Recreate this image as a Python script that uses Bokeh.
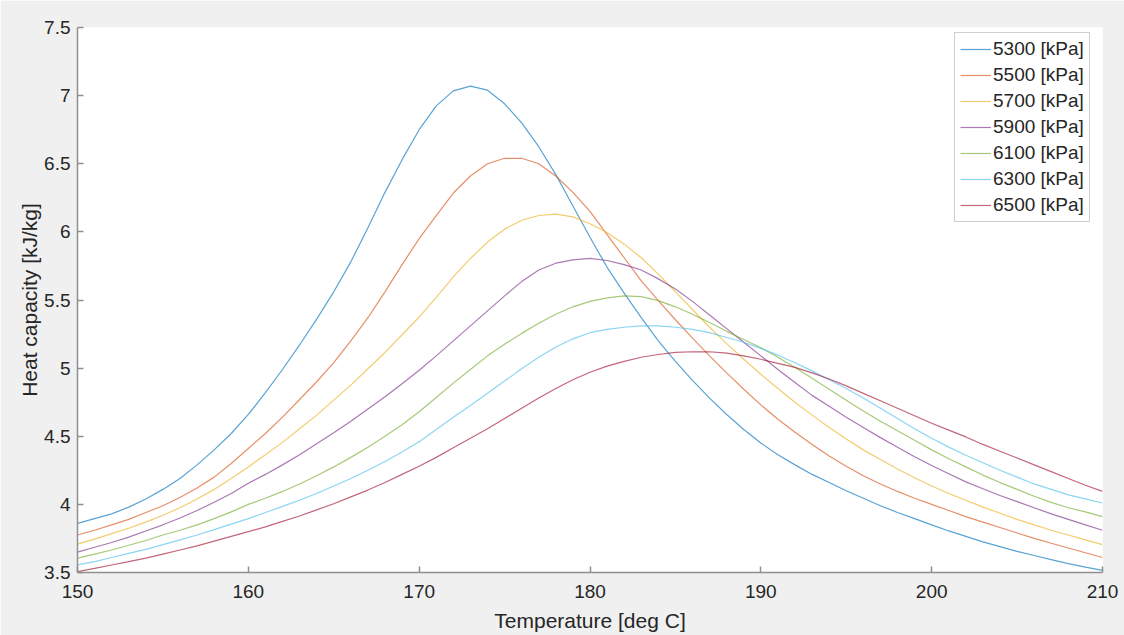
from bokeh.plotting import figure
from bokeh.models import ColumnDataSource, FixedTicker, Range1d, Legend, LegendItem
from bokeh.embed import file_html
from bokeh.resources import INLINE

# ---------------- data ----------------
temperature = list(range(150, 211))  # deg C, 1-degree samples

labels = ["5300 [kPa]", "5500 [kPa]", "5700 [kPa]", "5900 [kPa]",
          "6100 [kPa]", "6300 [kPa]", "6500 [kPa]"]

cp_5300 = [3.86, 3.895, 3.93, 3.98, 4.04, 4.11, 4.19, 4.29, 4.40, 4.52,
           4.66, 4.82, 4.99, 5.17, 5.36, 5.56, 5.78, 6.03, 6.29, 6.53,
           6.75, 6.925, 7.035, 7.07, 7.04, 6.94, 6.80, 6.625, 6.42, 6.19,
           5.96, 5.74, 5.55, 5.37, 5.20, 5.05, 4.91, 4.78, 4.66, 4.55,
           4.45, 4.365, 4.29, 4.22, 4.16, 4.10, 4.045, 3.99, 3.94, 3.895,
           3.85, 3.805, 3.765, 3.725, 3.69, 3.655, 3.625, 3.595, 3.565, 3.54,
           3.515]
cp_5500 = [3.775, 3.81, 3.85, 3.89, 3.94, 3.99, 4.05, 4.12, 4.20, 4.30,
           4.41, 4.52, 4.64, 4.77, 4.90, 5.04, 5.20, 5.37, 5.56, 5.76,
           5.95, 6.12, 6.285, 6.41, 6.50, 6.54, 6.54, 6.50, 6.41, 6.29,
           6.15, 5.98, 5.81, 5.64, 5.495, 5.355, 5.22, 5.09, 4.965, 4.845,
           4.73, 4.625, 4.53, 4.44, 4.355, 4.28, 4.21, 4.15, 4.095, 4.045,
           4.00, 3.955, 3.91, 3.87, 3.83, 3.79, 3.75, 3.715, 3.68, 3.645,
           3.61]
cp_5700 = [3.708, 3.745, 3.785, 3.825, 3.87, 3.92, 3.975, 4.04, 4.11, 4.19,
           4.275, 4.365, 4.455, 4.555, 4.655, 4.765, 4.875, 4.995, 5.115, 5.245,
           5.375, 5.52, 5.67, 5.805, 5.925, 6.02, 6.085, 6.12, 6.13, 6.11,
           6.06, 5.995, 5.91, 5.81, 5.69, 5.56, 5.43, 5.30, 5.18, 5.065,
           4.955, 4.85, 4.75, 4.655, 4.565, 4.48, 4.40, 4.33, 4.26, 4.195,
           4.135, 4.08, 4.03, 3.98, 3.935, 3.89, 3.85, 3.81, 3.775, 3.74,
           3.705]
cp_5900 = [3.649, 3.685, 3.72, 3.76, 3.805, 3.85, 3.90, 3.955, 4.015, 4.08,
           4.155, 4.22, 4.29, 4.365, 4.445, 4.525, 4.61, 4.70, 4.79, 4.885,
           4.985, 5.09, 5.20, 5.31, 5.42, 5.53, 5.635, 5.72, 5.77, 5.795,
           5.805, 5.79, 5.76, 5.72, 5.655, 5.58, 5.49, 5.39, 5.29, 5.19,
           5.09, 4.99, 4.895, 4.80, 4.72, 4.64, 4.565, 4.49, 4.42, 4.35,
           4.285, 4.225, 4.165, 4.115, 4.065, 4.02, 3.975, 3.93, 3.89, 3.85,
           3.81]
cp_6100 = [3.605, 3.635, 3.665, 3.70, 3.735, 3.775, 3.81, 3.85, 3.895, 3.945,
           4.00, 4.045, 4.095, 4.15, 4.21, 4.275, 4.345, 4.42, 4.50, 4.585,
           4.68, 4.785, 4.89, 4.99, 5.09, 5.175, 5.255, 5.33, 5.395, 5.45,
           5.49, 5.515, 5.53, 5.525, 5.495, 5.45, 5.395, 5.335, 5.27, 5.21,
           5.15, 5.08, 5.005, 4.925, 4.845, 4.765, 4.685, 4.61, 4.54, 4.47,
           4.40, 4.335, 4.275, 4.215, 4.16, 4.11, 4.06, 4.015, 3.975, 3.945,
           3.91]
cp_6300 = [3.556, 3.58, 3.61, 3.64, 3.67, 3.705, 3.74, 3.775, 3.815, 3.855,
           3.895, 3.94, 3.985, 4.03, 4.08, 4.135, 4.19, 4.25, 4.315, 4.385,
           4.46, 4.55, 4.64, 4.725, 4.815, 4.905, 4.995, 5.08, 5.155, 5.215,
           5.26, 5.285, 5.30, 5.31, 5.31, 5.30, 5.285, 5.26, 5.225, 5.19,
           5.145, 5.095, 5.04, 4.98, 4.915, 4.85, 4.78, 4.705, 4.63, 4.555,
           4.485, 4.42, 4.36, 4.305, 4.25, 4.20, 4.15, 4.11, 4.07, 4.04,
           4.01]
cp_6500 = [3.507, 3.53, 3.555, 3.58, 3.605, 3.635, 3.665, 3.695, 3.73, 3.765,
           3.80, 3.835, 3.875, 3.915, 3.96, 4.005, 4.055, 4.105, 4.16, 4.22,
           4.28, 4.345, 4.415, 4.485, 4.555, 4.63, 4.705, 4.78, 4.85, 4.915,
           4.97, 5.015, 5.05, 5.08, 5.10, 5.115, 5.12, 5.12, 5.11, 5.09,
           5.065, 5.035, 5.005, 4.965, 4.92, 4.87, 4.815, 4.76, 4.705, 4.65,
           4.595, 4.545, 4.495, 4.44, 4.39, 4.34, 4.29, 4.24, 4.19, 4.14,
           4.095]

x_ticks = [150, 160, 170, 180, 190, 200, 210]
y_ticks = [3.5, 4, 4.5, 5, 5.5, 6, 6.5, 7, 7.5]
y_tick_labels = ["3.5", "4", "4.5", "5", "5.5", "6", "6.5", "7", "7.5"]

colors = ["#0072BD", "#D95319", "#EDB120", "#7E2F8E", "#77AC30", "#4DBEEE", "#A2142F"]

series = [cp_5300, cp_5500, cp_5700, cp_5900, cp_6100, cp_6300, cp_6500]
cols = ["p5300", "p5500", "p5700", "p5900", "p6100", "p6300", "p6500"]
data = {"T": temperature}
for c, s in zip(cols, series):
    data[c] = s
source = ColumnDataSource(data)

FONT = "Liberation Sans"
TXT = "#262626"
AXC = "#8f8f8f"

p = figure(width=1124, height=635, output_backend="svg", toolbar_location=None,
           x_range=Range1d(150, 210), y_range=Range1d(3.5, 7.5),
           min_border_left=77, min_border_right=22, min_border_top=27, min_border_bottom=63,
           background_fill_color="white", border_fill_color="#f0f0f0")
p.outline_line_color = None
p.grid.visible = False

items = []
for c, col, lab in zip(cols, colors, labels):
    r = p.line(x="T", y=c, source=source, line_color=col, line_width=1.2, line_alpha=0.65)
    items.append(LegendItem(label=lab, renderers=[r]))

for ax in (p.xaxis[0], p.yaxis[0]):
    ax.axis_line_color = AXC
    ax.axis_line_width = 1.5
    ax.major_tick_line_color = AXC
    ax.major_tick_line_width = 1.5
    ax.major_tick_in = 6
    ax.major_tick_out = 0
    ax.minor_tick_line_color = None
    ax.major_label_text_font = FONT
    ax.major_label_text_font_size = "19px"
    ax.major_label_text_color = TXT
    ax.axis_label_text_font = FONT
    ax.axis_label_text_font_size = "21px"
    ax.axis_label_text_font_style = "normal"
    ax.axis_label_text_color = TXT

p.xaxis.ticker = FixedTicker(ticks=x_ticks)
p.yaxis.ticker = FixedTicker(ticks=y_ticks)
p.yaxis.major_label_overrides = {t: l for t, l in zip(y_ticks, y_tick_labels)}
p.xaxis.axis_label = "Temperature [deg C]"
p.yaxis.axis_label = "Heat capacity [kJ/kg]"
p.xaxis.major_label_standoff = 12
p.xaxis.axis_label_standoff = 8
p.yaxis.major_label_standoff = 7
p.yaxis.axis_label_standoff = 0

legend = Legend(items=items, location=(877, 350))
legend.margin = 0
legend.padding = 5
legend.spacing = 4
legend.label_height = 20
legend.glyph_height = 20
legend.glyph_width = 31
legend.label_standoff = 2
legend.label_text_font = FONT
legend.label_text_font_size = "19px"
legend.label_text_color = TXT
legend.border_line_color = "#a0a0a0"
legend.border_line_width = 1
legend.background_fill_color = "white"
legend.background_fill_alpha = 1.0
p.add_layout(legend)

open("out.html", "w").write(file_html(p, INLINE))
